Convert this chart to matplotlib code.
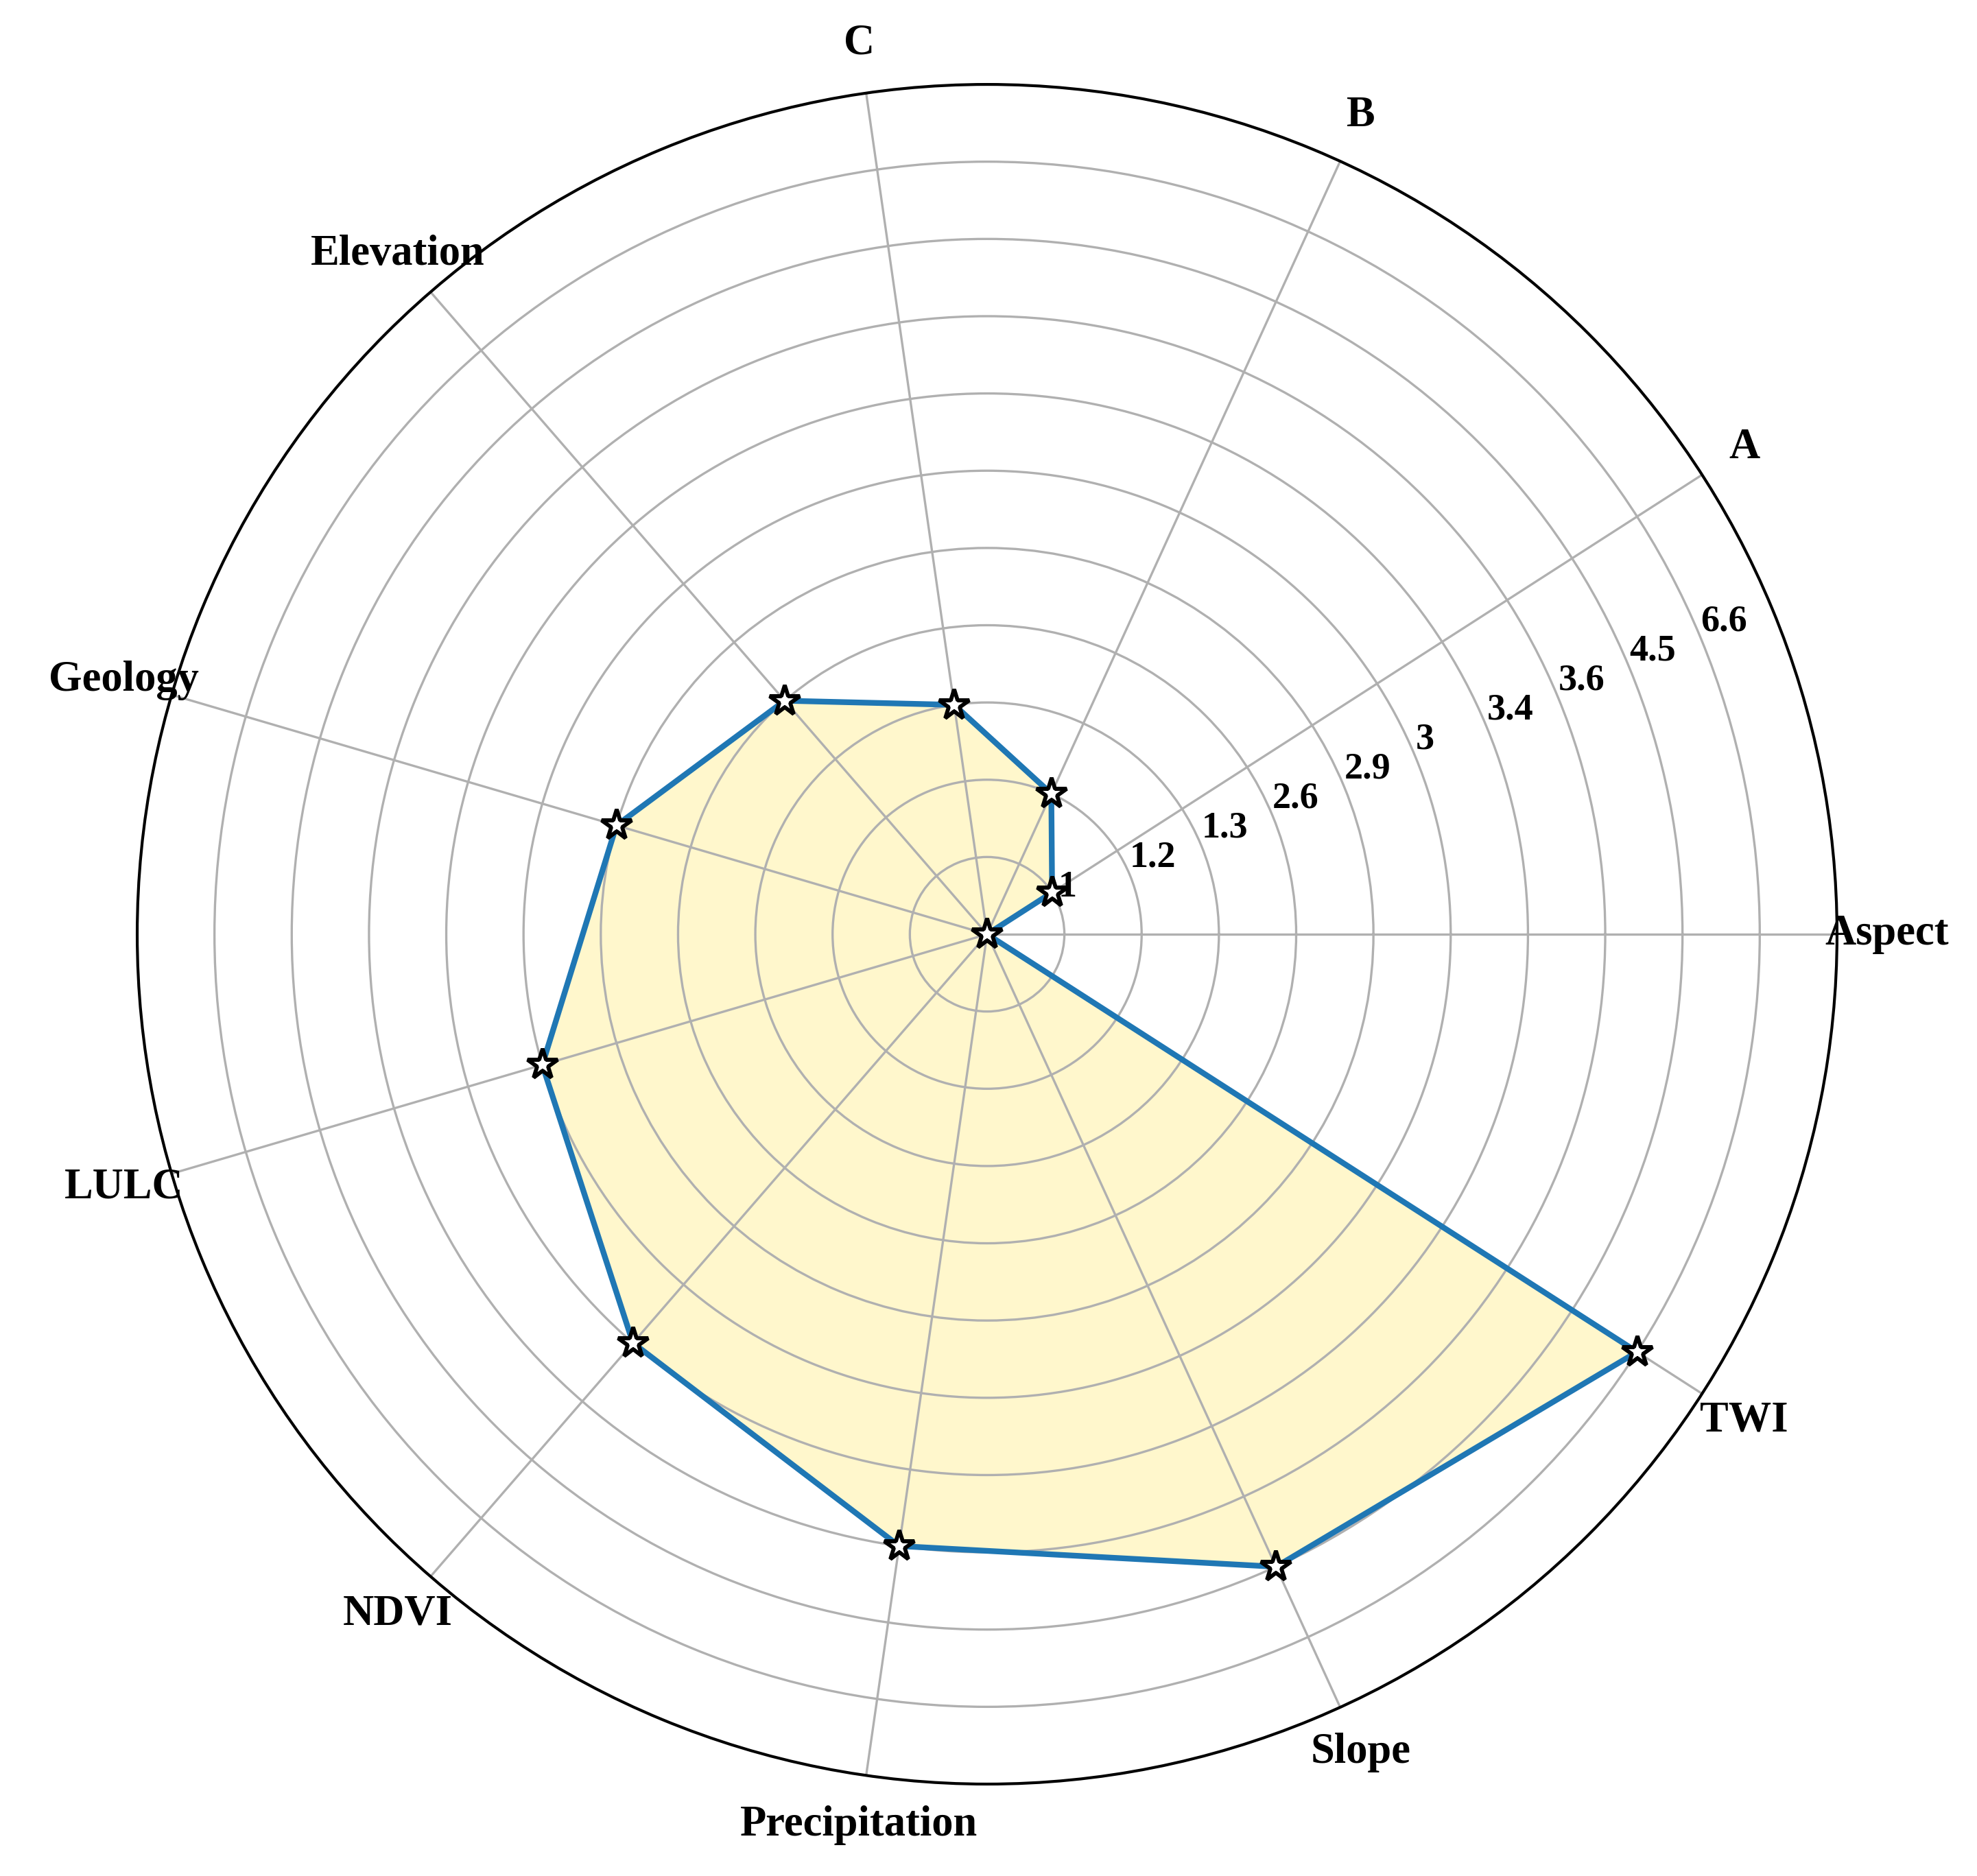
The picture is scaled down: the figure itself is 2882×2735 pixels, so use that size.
import matplotlib.pyplot as plt
import numpy as np

# --- Data ---
categories = ['Aspect', 'A', 'B', 'C', 'Elevation', 'Geology', 'LULC',
              'NDVI', 'Precipitation', 'Slope', 'TWI']
values = [0, 1, 1.2, 1.3, 2.6, 2.9, 3, 3.4, 3.6, 4.5, 6.6]
ring_values = [1, 1.2, 1.3, 2.6, 2.9, 3, 3.4, 3.6, 4.5, 6.6]
ring_labels = ['1', '1.2', '1.3', '2.6', '2.9', '3', '3.4', '3.6', '4.5', '6.6']

plt.rcParams['font.family'] = ['Liberation Serif', 'DejaVu Serif']
plt.rcParams['font.weight'] = 'bold'

# rings are evenly spaced, each one marks the next value
ring_pos = np.arange(1, len(ring_values) + 1)
r = np.interp(values, [0] + ring_values, [0] + list(ring_pos))

angles = np.linspace(0, 2 * np.pi, len(categories), endpoint=False)
theta_closed = np.append(angles, angles[0])
r_closed = np.append(r, r[0])

fig = plt.figure(figsize=(2882 / 300, 2735 / 300), dpi=300)
ax = fig.add_axes([0.0694, 0.049, 0.8598, 0.906], projection='polar')

ax.fill(theta_closed, r_closed, color='gold', alpha=0.2, zorder=1)
ax.plot(theta_closed, r_closed, color='#1f77b4', lw=2.0, zorder=3)
ax.plot(angles, r, linestyle='none', marker='*', markersize=11,
        markerfacecolor='white', markeredgecolor='black',
        markeredgewidth=1.4, zorder=4)

ax.set_ylim(0, len(ring_values) + 1)
ax.set_yticks(ring_pos)
ax.set_yticklabels(ring_labels, fontsize=13, fontweight='bold')
ax.set_rlabel_position(22.5)

ax.set_xticks(angles)
ax.set_xticklabels(categories, fontsize=15, fontweight='bold')
ax.tick_params(axis='x', pad=7)

ax.grid(True, color='#b0b0b0', lw=0.8)
ax.spines['polar'].set_linewidth(1.0)

fig.savefig('out.png', dpi=300)
